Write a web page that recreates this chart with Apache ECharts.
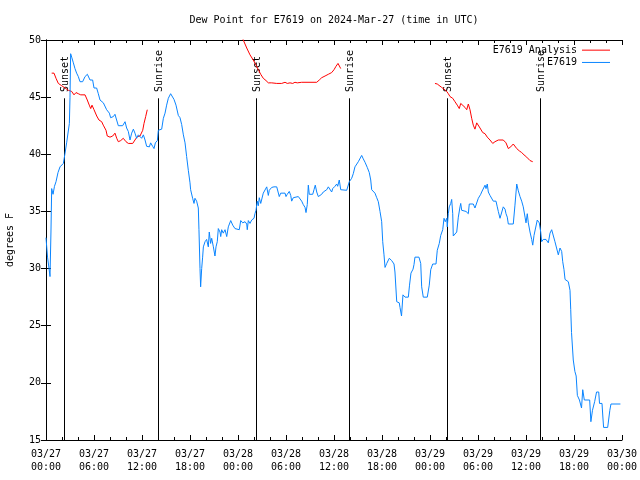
<!DOCTYPE html>
<html>
<head>
<meta charset="utf-8">
<script src="https://cdn.jsdelivr.net/npm/echarts@6/dist/echarts.min.js"></script>
<style>html,body{margin:0;padding:0;background:#fff}#c{width:640px;height:480px}</style>
</head>
<body>
<div id="c"></div>
<script>
// Hours since 2024-03-27 00:00 UTC
const titleText = 'Dew Point for E7619 on 2024-Mar-27 (time in UTC)';
const yTitle = 'degrees F';
const tickDates = ['03/27','03/27','03/27','03/27','03/28','03/28','03/28','03/28','03/29','03/29','03/29','03/29','03/30'];
const tickTimes = ['00:00','06:00','12:00','18:00','00:00','06:00','12:00','18:00','00:00','06:00','12:00','18:00','00:00'];

const blueName = 'E7619';
const blueT = [0.00,0.19,0.38,0.50,0.62,0.71,0.88,1.06,1.25,1.5,1.75,1.96,2.17,2.38,2.58,2.79,2.92,3.0,3.08,3.21,3.42,3.62,3.83,4.04,4.25,4.58,4.88,5.17,5.5,5.83,6.0,6.33,6.54,6.75,7.17,7.58,7.92,8.08,8.42,8.62,8.83,9.04,9.58,9.88,10.08,10.29,10.5,10.71,10.92,11.12,11.33,11.54,11.75,11.96,12.17,12.38,12.58,12.92,13.08,13.33,13.5,13.67,13.92,14.04,14.46,14.67,14.88,15.08,15.29,15.58,15.83,16.0,16.25,16.54,16.75,16.96,17.17,17.38,17.58,17.79,18.0,18.08,18.33,18.5,18.62,18.83,19.04,19.12,19.25,19.33,19.46,19.58,19.67,19.88,20.08,20.29,20.41,20.58,20.71,20.92,21.12,21.25,21.41,21.54,21.75,21.84,21.96,22.16,22.38,22.59,22.79,23.09,23.34,23.62,24.16,24.34,24.59,24.88,25.09,25.16,25.29,25.5,25.71,26.0,26.12,26.25,26.41,26.54,26.66,26.84,26.96,27.16,27.38,27.59,27.79,27.91,28.21,28.5,28.84,29.04,29.16,29.34,29.59,29.88,30.0,30.16,30.41,30.59,30.71,30.91,31.12,31.54,31.75,31.96,32.16,32.38,32.5,32.66,32.79,32.91,33.34,33.5,33.66,33.84,34.04,34.25,34.46,34.66,35.09,35.29,35.5,35.71,35.84,36.12,36.34,36.46,36.66,36.84,37.09,37.59,37.79,37.91,38.21,38.41,38.62,39.04,39.46,39.66,39.88,40.16,40.41,40.59,40.71,40.91,41.12,41.34,41.54,41.75,41.96,42.09,42.25,42.38,42.59,42.91,43.21,43.5,43.62,43.84,44.16,44.25,44.44,44.62,44.88,45.29,45.44,45.62,45.88,46.0,46.12,46.62,46.84,46.96,47.16,47.66,47.91,48.09,48.34,48.75,48.91,49.16,49.34,49.59,49.75,49.91,50.09,50.16,50.29,50.41,50.59,50.71,50.84,50.91,51.12,51.34,51.54,51.75,51.84,51.96,52.5,52.79,52.91,53.41,53.62,53.84,54.04,54.34,54.46,54.66,54.88,55.0,55.16,55.29,55.5,55.71,55.91,56.25,56.41,56.54,56.75,56.96,57.16,57.38,57.5,57.66,57.79,58.41,58.62,58.84,59.04,59.25,59.46,59.66,59.88,60.0,60.16,60.29,60.5,60.71,60.84,61.0,61.25,61.41,61.66,61.84,61.96,62.16,62.5,62.79,63.0,63.21,63.41,63.62,63.84,64.04,64.25,64.46,64.59,64.75,64.88,65.09,65.29,65.5,65.59,65.69,65.91,66.11,66.27,66.42,66.68,66.94,67.09,67.29,67.96,68.11,68.31,68.58,68.82,69.09,69.19,69.5,69.6,69.7,70.21,70.48,70.62,71.8];
const blueV = [32.7,31.0,30.0,29.3,33.2,37.0,36.5,37.2,37.6,38.4,38.9,39.0,39.2,40.1,41.0,41.1,42.7,45.0,48.8,48.5,48.0,47.5,47.1,46.8,46.35,46.35,46.8,47.0,46.5,46.5,45.8,45.8,45.3,44.75,44.5,43.9,43.6,43.2,43.3,43.5,43.0,42.5,42.5,42.85,42.3,42.0,41.25,41.85,42.2,41.85,41.4,41.7,41.55,41.4,41.7,41.25,40.7,40.65,41.0,40.7,40.5,41.0,41.2,42.1,42.2,43.15,43.6,44.3,44.9,45.3,45.2,44.8,44.3,43.4,43.2,42.6,41.7,41.0,39.8,38.6,37.5,36.9,36.15,35.7,36.15,35.9,35.3,33.4,30.0,28.4,30.0,31.0,31.9,32.35,32.55,31.9,33.2,32.2,32.65,31.9,31.1,31.9,32.35,33.5,33.2,32.8,33.4,33.1,33.4,32.8,33.65,34.2,33.8,33.5,33.4,34.2,34.0,34.1,33.9,33.4,34.2,33.95,34.25,34.4,34.8,35.1,35.9,35.5,36.2,35.7,35.85,36.6,36.7,37.15,36.4,36.85,37.1,37.15,37.15,37.1,36.3,36.6,36.75,36.6,36.3,36.5,36.75,36.4,35.9,36.2,36.3,36.3,36.4,35.9,35.6,35.35,34.9,35.6,37.3,36.5,36.5,36.9,37.3,36.7,36.3,36.4,36.5,36.7,36.9,37.15,37.1,36.7,37.0,37.2,37.4,37.2,37.75,36.9,36.85,36.85,36.9,37.6,37.9,38.3,38.9,39.35,39.9,39.6,39.3,38.85,38.4,37.75,36.9,37.0,36.6,36.2,35.85,35.0,34.1,32.35,31.2,30.1,30.45,30.9,30.7,30.4,29.7,27.1,27.0,26.6,25.85,27.7,27.5,27.5,28.55,29.6,29.95,30.35,31.0,31.0,30.45,28.4,27.5,27.5,28.55,29.9,30.4,30.4,31.6,32.2,32.9,33.4,34.4,34.1,34.4,33.65,34.8,35.4,35.7,36.05,34.8,32.85,32.85,33.2,34.5,35.4,35.7,35.1,35.0,34.8,35.65,35.65,35.3,35.3,36.15,36.5,36.7,36.8,37.3,37.0,37.4,36.7,36.4,36.4,35.9,35.9,35.4,35.0,34.4,34.4,35.4,35.2,34.8,34.5,33.9,33.9,35.55,37.4,36.8,36.3,35.9,35.4,34.5,34.0,34.8,34.0,33.2,32.55,32.05,32.9,32.9,34.25,34.0,33.2,32.35,32.55,32.55,32.25,33.1,33.4,33.3,32.35,32.35,31.2,31.8,31.5,30.6,29.9,29.05,29.0,28.85,28.1,26.4,24.4,22.0,21.0,20.6,18.9,18.5,17.8,19.4,18.5,18.5,16.6,17.6,18.35,19.2,19.2,18.2,18.2,17.1,16.1,16.1,17.6,18.15,18.15];

const redName = 'E7619 Analysis';
const redT = [0.71,1.0,1.25,1.54,1.96,2.38,2.79,3.21,3.5,3.75,4.04,4.34,4.59,4.88,5.16,5.41,5.59,5.75,6.0,6.34,6.62,6.96,7.16,7.5,7.66,8.0,8.34,8.62,8.84,9.04,9.34,9.66,10.0,10.29,10.84,11.12,11.41,11.75,11.96,12.09,12.25,12.46,12.66,
  18.5,
  24.44,24.66,25.09,25.5,25.91,26.25,26.54,26.84,27.16,27.5,27.79,28.21,28.84,29.46,29.88,30.16,30.5,30.84,31.12,31.41,31.66,31.96,33.84,34.16,34.46,34.88,35.29,35.71,36.0,36.25,36.5,36.66,36.84,
  42.0,
  48.62,48.91,49.16,49.46,49.75,50.09,50.29,50.5,50.84,51.12,51.41,51.66,51.84,52.09,52.38,52.59,52.79,53.0,53.21,53.41,53.62,53.84,54.04,54.25,54.59,54.88,55.16,55.5,55.84,56.12,56.54,57.16,57.5,57.79,58.09,58.41,58.66,58.84,59.16,59.46,59.75,60.09,60.5,60.84];
const redV = [47.1,47.1,46.65,46.2,46.0,45.8,45.6,45.5,45.2,45.4,45.3,45.2,45.05,45.2,44.75,44.3,44.0,44.3,43.9,43.35,43.0,42.85,42.55,42.1,41.6,41.5,41.6,41.85,41.4,41.1,41.2,41.4,41.1,40.95,40.95,41.25,41.55,41.6,41.75,42.1,42.7,43.3,43.9,
  null,
  50.4,50.0,49.3,48.7,48.25,47.8,47.4,47.0,46.65,46.45,46.25,46.25,46.2,46.2,46.3,46.2,46.25,46.2,46.3,46.25,46.15,46.3,46.3,46.5,46.7,46.85,47.0,47.15,47.4,47.7,47.95,47.8,47.5,
  null,
  46.2,46.15,46.0,45.85,45.7,45.5,45.3,45.05,44.9,44.6,44.3,44.0,44.45,44.3,44.1,43.9,44.4,43.9,43.15,42.55,42.2,42.75,42.6,42.3,41.9,41.8,41.5,41.25,40.95,41.1,41.25,41.25,41.0,40.5,40.65,40.9,41.0,40.5,40.3,40.15,39.95,39.75,39.45,39.35];

const eventT = [2.29, 14.04, 26.29, 37.9, 50.16, 61.79];
const eventLabel = ['Sunset', 'Sunrise', 'Sunset', 'Sunrise', 'Sunset', 'Sunrise'];

const FONT = '"DejaVu Sans Mono", "Liberation Mono", monospace';
const X_MIN = 0, X_MAX = 72, Y_MIN = 15, Y_MAX = 50;
const EVENT_LINE_TOP = 44.9, EVENT_TEXT_START = 45.45;

const blueData = blueT.map((t, i) => [t, blueV[i]]);
const redData = redT.map((t, i) => [t, redV[i] == null ? '-' : redV[i]]);
const eventData = eventT.map(t => [t, Y_MIN]);

function xLabel(v) {
  const i = Math.round(v / 6);
  if (Math.abs(v - i * 6) > 1e-6 || i < 0 || i >= tickDates.length) return '';
  return tickDates[i] + '\n' + tickTimes[i];
}

const chart = echarts.init(document.getElementById('c'), null, {renderer: 'canvas'});
const axisCommon = {
  axisLine: {show: true, lineStyle: {color: '#000', width: 1}},
  splitLine: {show: false}
};
chart.setOption({
  animation: false,
  backgroundColor: '#fff',
  graphic: [{
    type: 'text', x: 334, y: 20,
    style: {text: titleText, font: '10px ' + FONT, fill: '#000', align: 'center', verticalAlign: 'middle'}
  }],
  legend: {
    data: [redName, blueName],
    orient: 'vertical',
    right: 30, top: 44,
    padding: 0,
    align: 'right',
    icon: 'rect',
    itemWidth: 28, itemHeight: 1, itemGap: 0,
    textStyle: {fontFamily: FONT, fontSize: 10, color: '#000', lineHeight: 12.3}
  },
  grid: {left: 46, right: 18, top: 40, bottom: 40, containLabel: false, outerBoundsMode: 'none'},
  xAxis: [
    Object.assign({
      type: 'value', min: X_MIN, max: X_MAX, interval: 6, position: 'bottom',
      axisTick: {show: true, inside: true, length: 5, lineStyle: {color: '#000'}},
      minorTick: {show: true, splitNumber: 3, length: 3, lineStyle: {color: '#000'}},
      axisLabel: {formatter: xLabel, fontFamily: FONT, fontSize: 10, color: '#000', lineHeight: 13, margin: 8, showMinLabel: true, showMaxLabel: true}
    }, axisCommon),
    Object.assign({
      type: 'value', min: X_MIN, max: X_MAX, interval: 6, position: 'top',
      axisTick: {show: true, inside: true, length: 5, lineStyle: {color: '#000'}},
      minorTick: {show: true, splitNumber: 3, length: 3, lineStyle: {color: '#000'}},
      axisLabel: {show: false}
    }, axisCommon)
  ],
  yAxis: [
    Object.assign({
      type: 'value', min: Y_MIN, max: Y_MAX, interval: 5, position: 'left',
      name: yTitle, nameLocation: 'middle', nameRotate: 90, nameGap: 31,
      nameTextStyle: {fontFamily: FONT, fontSize: 10, color: '#000'},
      axisTick: {show: true, inside: true, length: 5, lineStyle: {color: '#000'}},
      axisLabel: {fontFamily: FONT, fontSize: 10, color: '#000', margin: 5}
    }, axisCommon),
    Object.assign({
      type: 'value', min: Y_MIN, max: Y_MAX, interval: 5, position: 'right',
      axisTick: {show: true, inside: true, length: 5, lineStyle: {color: '#000'}},
      axisLabel: {show: false}
    }, axisCommon)
  ],
  series: [
    {
      type: 'custom', name: 'events', xAxisIndex: 0, yAxisIndex: 0,
      silent: true, clip: false,
      encode: {x: 0, y: 1},
      data: eventData,
      renderItem: function (params, api) {
        const t = api.value(0);
        const p0 = api.coord([t, Y_MIN]);
        const p1 = api.coord([t, EVENT_LINE_TOP]);
        const pt = api.coord([t, EVENT_TEXT_START]);
        const x = Math.round(p0[0]) + 0.5;
        return {
          type: 'group',
          children: [
            {type: 'line', shape: {x1: x, y1: p0[1], x2: x, y2: p1[1]}, style: {stroke: '#000', lineWidth: 1}},
            {type: 'text', x: x + 1, y: pt[1], rotation: Math.PI / 2,
             style: {text: eventLabel[params.dataIndex], font: '10px ' + FONT, fill: '#000', align: 'left', verticalAlign: 'middle'}}
          ]
        };
      }
    },
    {
      type: 'line', name: redName, data: redData, xAxisIndex: 0, yAxisIndex: 0,
      symbol: 'none', showSymbol: false, connectNulls: false, clip: true,
      lineStyle: {color: '#ff0000', width: 1}, itemStyle: {color: '#ff0000'}
    },
    {
      type: 'line', name: blueName, data: blueData, xAxisIndex: 0, yAxisIndex: 0,
      symbol: 'none', showSymbol: false, clip: true,
      lineStyle: {color: '#0a85ff', width: 1}, itemStyle: {color: '#0a85ff'}
    }
  ]
});
</script>
</body>
</html>
